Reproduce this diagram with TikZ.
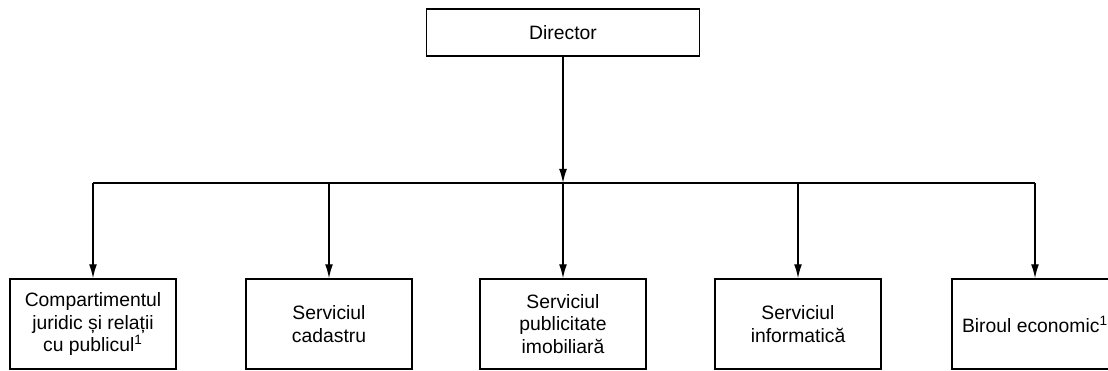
\documentclass[tikz,border=0pt]{standalone}
\usepackage{fontspec}
\setmainfont{Liberation Sans}
\usepackage{tikz}
\usetikzlibrary{positioning}
\usetikzlibrary{arrows.meta}

\begin{document}
\begin{tikzpicture}[
  x=0.02cm, y=-0.02cm,
  unit/.style={draw=black,line width=0.8pt,minimum width=3.32cm,minimum height=1.8cm,
    inner sep=0pt,align=center,font=\fontsize{11}{13}\selectfont},
  flow/.style={draw=black,line width=0.8pt,-{Latex[length=8pt,width=4.5pt]}},
  bus/.style={draw=black,line width=0.8pt}
]
  \useasboundingbox (0,0) rectangle (1108,370);
  \clip (0,0) rectangle (1108,370);

  \node[unit,minimum width=5.46cm,minimum height=0.94cm] (director) at (563, 32.5) {Director};

  \coordinate (fork) at (563, 183);

  \node[unit] (c1) at (93, 324) {Compartimentul\\juridic și relații\\cu publicul\textsuperscript{1}};
  \node[unit] (c2) at (329, 324) {Serviciul\\cadastru};
  \node[unit] (c3) at (563, 324) {Serviciul\\publicitate\\imobiliară};
  \node[unit] (c4) at (798, 324) {Serviciul\\informatică};
  \node[unit] (c5) at (1035, 324) {Biroul economic\textsuperscript{1}};

  \draw[flow] (director.south) -- (fork);
  \draw[bus] (c1.north |- fork) -- (c5.north |- fork);

  \draw[flow] (c1.north |- fork) -- (c1.north);
  \draw[flow] (c2.north |- fork) -- (c2.north);
  \draw[flow] (fork) -- (c3.north);
  \draw[flow] (c4.north |- fork) -- (c4.north);
  \draw[flow] (c5.north |- fork) -- (c5.north);
\end{tikzpicture}
\end{document}
